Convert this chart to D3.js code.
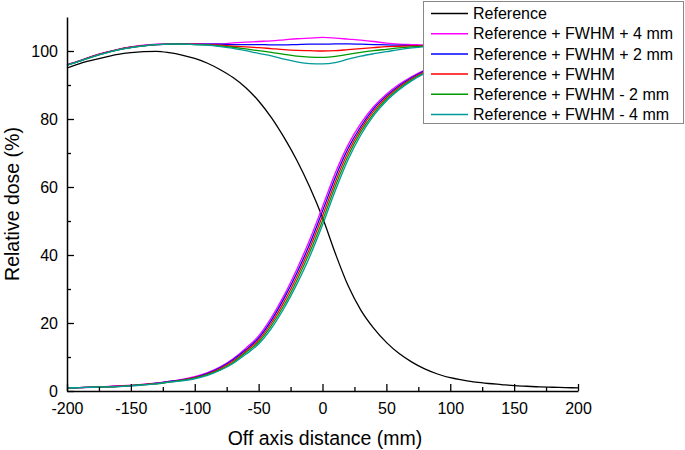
<!DOCTYPE html>
<html><head><meta charset="utf-8">
<script src="https://cdn.jsdelivr.net/npm/d3@7"></script>
<style>body{margin:0;background:#fff}svg{display:block}text{font-family:"Liberation Sans",Arial,sans-serif;fill:#000}</style>
</head><body><svg id="c" width="685" height="450"></svg>
<script>
const xPos = [-200,-190,-180,-170,-160,-150,-140,-130,-120,-110,-100,-90,-80,-70,-60,-50,-40,-30,-20,-10,0,10,20,30,40,50,60,70,80,90,100,110,120,130,140,150,160,170,180,190,200];
const xTicks = [-200,-150,-100,-50,0,50,100,150,200];
const yTicks = [0,20,40,60,80,100];
const seriesNames = ["Reference","Reference + FWHM + 4 mm","Reference + FWHM + 2 mm","Reference + FWHM","Reference + FWHM - 2 mm","Reference + FWHM - 4 mm"];
const seriesColors = ["#000000","#ff00ff","#0000ff","#ff0000","#009900","#009a9a"];

const reference = [95.0,96.3,97.3,98.2,99.0,99.5,99.8,99.9,99.5,98.8,97.8,96.4,94.5,92.2,89.2,85.3,80.4,74.5,67.8,60.0,51.0,40.5,31.0,23.8,18.5,14.3,11.0,8.5,6.5,5.0,3.9,3.2,2.6,2.2,1.9,1.6,1.4,1.2,1.1,1.0,0.9];

const riseP4 = [0.9,1.0,1.1,1.3,1.5,1.7,2.0,2.3,2.8,3.4,4.2,5.4,7.1,9.5,12.6,16.2,21.6,28.2,35.9,44.5,54.2,64.1,72.4,78.7,83.6,87.3,90.2,92.5,94.4,95.9,97.1,98.1,98.8,99.3,99.6,99.6,99.2,98.5,97.5,96.5,95.3];
const riseP2 = [0.9,1.0,1.1,1.2,1.4,1.6,1.9,2.3,2.8,3.3,4.0,5.2,6.9,9.2,12.1,15.6,20.8,27.3,34.8,43.2,52.9,62.8,71.3,77.8,83.0,86.8,89.8,92.2,94.2,95.7,97.0,97.9,98.7,99.3,99.5,99.6,99.2,98.6,97.7,96.6,95.4];
const riseF0 = [0.9,1.0,1.1,1.2,1.4,1.6,1.9,2.2,2.7,3.2,3.9,5.0,6.6,8.8,11.7,15.0,20.0,26.3,33.7,42.0,51.5,61.5,70.2,77.0,82.3,86.3,89.4,91.9,93.9,95.5,96.8,97.8,98.6,99.2,99.5,99.6,99.3,98.7,97.8,96.8,95.6];
const riseM2 = [0.9,1.0,1.1,1.2,1.3,1.6,1.9,2.1,2.6,3.1,3.8,4.8,6.3,8.4,11.3,14.4,19.2,25.3,32.6,40.8,50.1,60.2,69.1,76.2,81.6,85.8,89.0,91.6,93.6,95.3,96.6,97.7,98.5,99.1,99.5,99.6,99.4,98.8,97.9,97.0,95.8];
const riseM4 = [0.9,1.0,1.1,1.2,1.3,1.5,1.8,2.1,2.6,3.0,3.6,4.6,6.1,8.1,10.8,13.8,18.4,24.4,31.5,39.5,48.8,58.9,68.0,75.3,81.0,85.3,88.6,91.3,93.4,95.1,96.5,97.5,98.4,99.1,99.4,99.6,99.4,98.9,98.1,97.1,95.9];

const sumP4 = [96.0,97.2,98.5,99.6,100.5,101.2,101.7,102.0,102.1,102.1,102.1,102.1,102.1,102.4,102.6,102.8,103.0,103.3,103.6,103.8,104.0,103.8,103.5,103.2,102.8,102.3,102.0,101.9,101.8,101.8,101.9,102.0,102.1,102.0,101.7,101.2,100.6,99.7,98.7,97.5,96.3];
const sumP2 = [95.9,97.1,98.4,99.5,100.4,101.1,101.6,101.9,102.0,102.1,102.0,102.0,102.0,101.9,101.9,101.9,101.8,101.8,101.9,102.0,102.0,102.1,102.1,102.0,101.9,101.8,101.7,101.6,101.5,101.7,101.8,101.9,102.0,101.9,101.6,101.1,100.5,99.6,98.6,97.4,96.2];
const sumF0 = [95.9,97.1,98.4,99.5,100.4,101.1,101.6,101.9,102.0,102.0,102.0,101.9,101.7,101.4,101.2,101.0,100.7,100.4,100.2,100.1,100.0,100.1,100.4,100.7,101.0,101.3,101.4,101.5,101.5,101.7,101.8,101.9,102.0,101.9,101.6,101.1,100.5,99.6,98.6,97.4,96.2];
const sumM2 = [95.8,97.0,98.3,99.4,100.3,101.0,101.5,101.9,102.0,102.0,101.9,101.8,101.5,101.1,100.6,100.1,99.6,99.0,98.5,98.2,98.1,98.4,99.0,99.6,100.1,100.5,100.9,101.2,101.4,101.6,101.8,101.9,102.0,101.9,101.6,101.1,100.5,99.6,98.6,97.4,96.2];
const sumM4 = [95.8,97.0,98.3,99.4,100.3,101.0,101.5,101.9,102.0,102.0,101.9,101.7,101.3,100.8,100.1,99.3,98.6,97.6,96.8,96.3,96.2,96.6,97.6,98.5,99.2,99.8,100.4,100.9,101.3,101.6,101.8,101.9,102.0,101.9,101.6,101.1,100.5,99.6,98.6,97.4,96.2];

const svg = d3.select("#c");
const x = d3.scaleLinear().domain([-200,200]).range([67,578]);
const y = d3.scaleLinear().domain([0,110]).range([391,17]);

const line = d3.line().x((d,i)=>x(xPos[i])).y(d=>y(d)).curve(d3.curveMonotoneX);
const plotted = [
  [reference],
  [riseP4,sumP4],
  [riseP2,sumP2],
  [riseF0,sumF0],
  [riseM2,sumM2],
  [riseM4,sumM4]
];
const g = svg.append("g");
plotted.forEach((arrs,si)=>{
  arrs.forEach(a=>{
    g.append("path").attr("d",line(a)).attr("fill","none")
      .attr("stroke",seriesColors[si]).attr("stroke-width",1.3).attr("stroke-linejoin","round");
  });
});

const fmt = d => String(d);
// axes
const xAxis = d3.axisBottom(x).tickValues(xTicks).tickSizeInner(-7).tickSizeOuter(0).tickPadding(12).tickFormat(fmt);
const gx = svg.append("g").attr("transform","translate(0,391)").call(xAxis);
gx.selectAll("text").attr("font-size",16).attr("font-family","Liberation Sans, Arial, sans-serif");
gx.select(".domain").attr("stroke","#000").attr("stroke-width",1.5);
gx.selectAll(".tick line").attr("stroke-width",1.3);
const gxm = svg.append("g").attr("transform","translate(0,391)").call(
  d3.axisBottom(x).tickValues([-175,-125,-75,-25,25,75,125,175]).tickSizeInner(-4).tickSizeOuter(0).tickFormat(""));
gxm.select(".domain").remove();
gxm.selectAll(".tick line").attr("stroke-width",1.3);

const yAxis = d3.axisLeft(y).tickValues(yTicks).tickSizeInner(-7).tickSizeOuter(0).tickPadding(9).tickFormat(fmt);
const gy = svg.append("g").attr("transform","translate(67,0)").call(yAxis);
gy.selectAll("text").attr("font-size",16).attr("font-family","Liberation Sans, Arial, sans-serif");
gy.select(".domain").attr("stroke","#000").attr("stroke-width",1.5);
gy.selectAll(".tick line").attr("stroke-width",1.3);
const gym = svg.append("g").attr("transform","translate(67,0)").call(
  d3.axisLeft(y).tickValues([10,30,50,70,90]).tickSizeInner(-4).tickSizeOuter(0).tickFormat(""));
gym.select(".domain").remove();
gym.selectAll(".tick line").attr("stroke-width",1.3);

svg.append("text").attr("x",325).attr("y",445).attr("text-anchor","middle").attr("font-size",19.5).text("Off axis distance (mm)");
svg.append("text").attr("transform","translate(19,204) rotate(-90)").attr("text-anchor","middle").attr("font-size",19.5).text("Relative dose (%)");

// legend
const lg = svg.append("g");
lg.append("rect").attr("x",423.5).attr("y",1.5).attr("width",260).attr("height",122).attr("fill","#fff").attr("stroke","#888").attr("stroke-width",1);
seriesNames.forEach((n,i)=>{
  const cy = 13.5 + i*20.2;
  lg.append("line").attr("x1",431).attr("x2",468).attr("y1",cy).attr("y2",cy).attr("stroke",seriesColors[i]).attr("stroke-width",1.5);
  lg.append("text").attr("x",473).attr("y",cy).attr("dy","0.36em").attr("font-size",16).text(n);
});
</script></body></html>
